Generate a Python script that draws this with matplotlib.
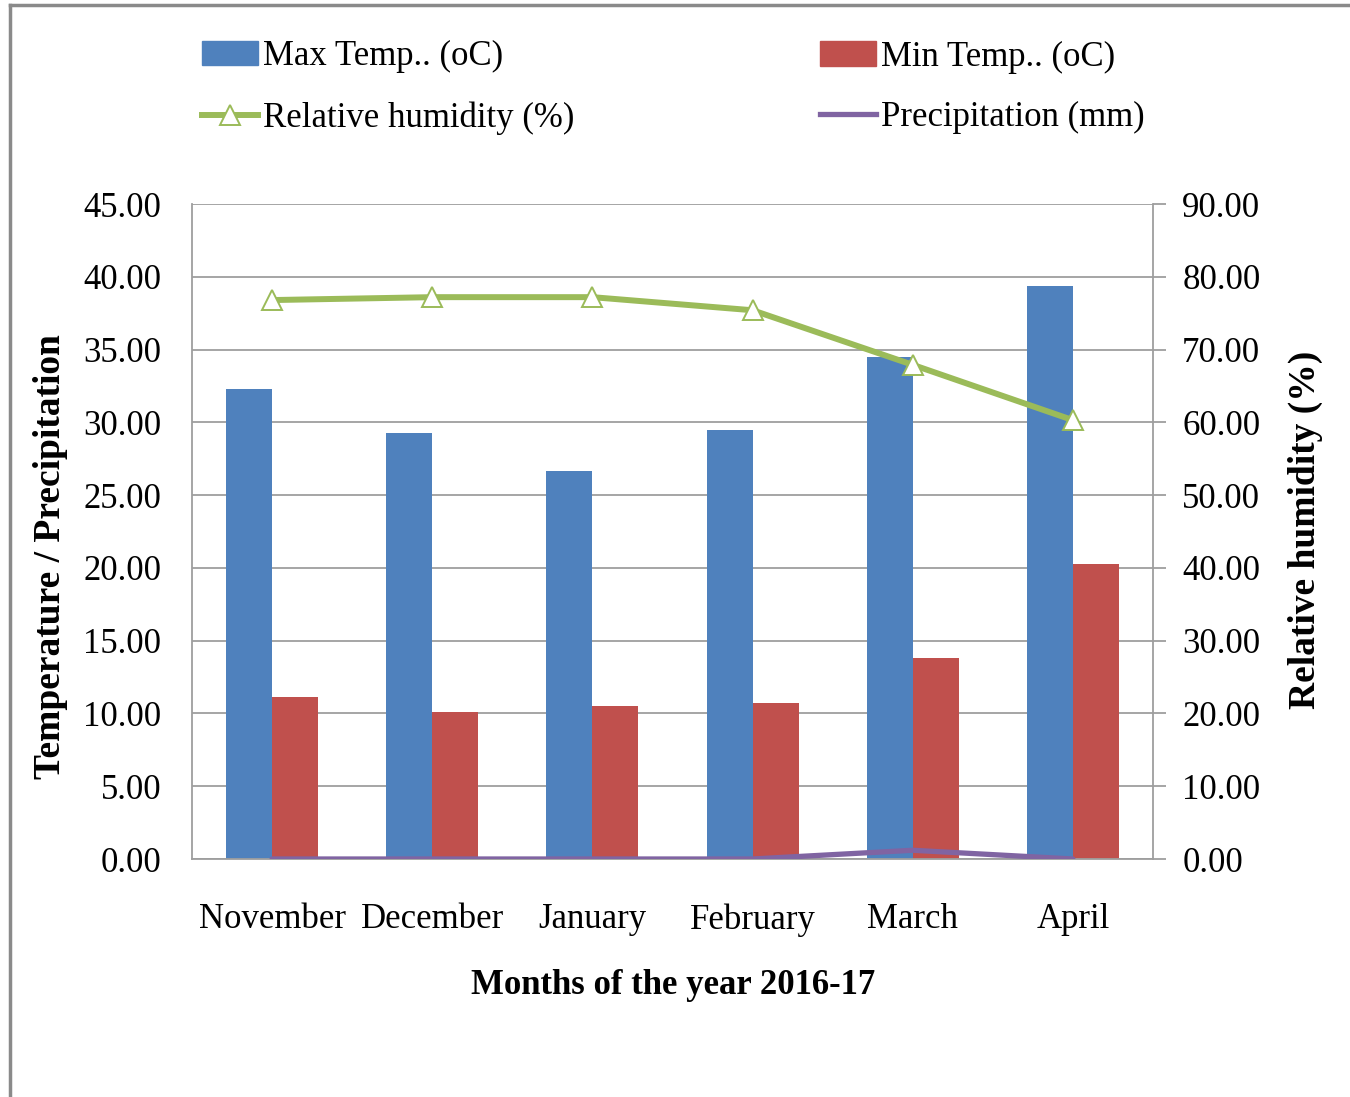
import matplotlib
matplotlib.use("Agg")
import matplotlib.pyplot as plt
from matplotlib.patches import Patch
from matplotlib.lines import Line2D
from matplotlib.ticker import FormatStrFormatter, MultipleLocator
import numpy as np

# Monthly weather data, November 2016 - April 2017
months = ["November", "December", "January", "February", "March", "April"]
max_temp = [32.3, 29.3, 26.65, 29.5, 34.5, 39.35]
min_temp = [11.1, 10.1, 10.5, 10.7, 13.8, 20.25]
rel_humidity = [76.8, 77.2, 77.2, 75.4, 67.9, 60.3]
precipitation = [0.0, 0.0, 0.0, 0.0, 0.6, 0.0]

BLUE = "#4F81BD"
RED = "#C0504D"
GREEN = "#9BBB59"
PURPLE = "#8064A2"
GRID = "#9E9E9E"

plt.rcParams["font.family"] = ["Liberation Serif", "DejaVu Serif"]

fig = plt.figure(figsize=(13.5, 10.97), dpi=100)
W, H = 1350, 1097
ax = fig.add_axes([192 / W, 1 - 859 / H, (1153 - 192) / W, (859 - 204) / H])

x = np.arange(len(months))
bw = 0.287
ax.bar(x - bw, max_temp, width=bw, align="edge", color=BLUE, zorder=2)
ax.bar(x, min_temp, width=bw, align="edge", color=RED, zorder=2)
ax.plot(x, precipitation, color=PURPLE, lw=3.8, zorder=4, solid_capstyle="round")

ax.set_xlim(-0.5, len(months) - 0.5)
ax.set_ylim(0, 45)
ax.yaxis.set_major_locator(MultipleLocator(5))
ax.yaxis.set_major_formatter(FormatStrFormatter("%.2f"))
ax.grid(axis="y", color=GRID, lw=1.3, zorder=0)
ax.set_axisbelow(True)
ax.set_xticks(x)
ax.set_xticklabels(months)
ax.tick_params(axis="x", length=0, pad=32, labelsize=25)
ax.tick_params(axis="y", length=0, pad=22, labelsize=25)
for side in ("top", "right"):
    ax.spines[side].set_visible(False)
for side in ("left", "bottom"):
    ax.spines[side].set_color(GRID)
    ax.spines[side].set_linewidth(1.3)

ax2 = ax.twinx()
ax2.plot(x, rel_humidity, color=GREEN, lw=4.3, zorder=3)
ax2.plot(x, rel_humidity, linestyle="none", marker="^", markersize=15,
         markerfacecolor="white", markeredgecolor=GREEN, markeredgewidth=1.4, zorder=4)
ax2.set_ylim(0, 90)
ax2.yaxis.set_major_locator(MultipleLocator(10))
ax2.yaxis.set_major_formatter(FormatStrFormatter("%.2f"))
ax2.tick_params(axis="y", length=9, width=1.3, color=GRID, pad=12, labelsize=25)
for side in ("top", "left", "bottom"):
    ax2.spines[side].set_visible(False)
ax2.spines["right"].set_color(GRID)
ax2.spines["right"].set_linewidth(1.3)

# Axis titles
fig.text(51 / W, 1 - 557 / H, "Temperature / Precipitation", rotation=90,
         ha="center", va="center", fontsize=27, fontweight="bold")
fig.text(1305 / W, 1 - 530 / H, "Relative humidity (%)", rotation=90,
         ha="center", va="center", fontsize=27, fontweight="bold")
fig.text(673 / W, 1 - 985 / H, "Months of the year 2016-17",
         ha="center", va="center", fontsize=25, fontweight="bold")

# Legend, two columns
h_max = Patch(facecolor=BLUE, edgecolor=BLUE)
h_min = Patch(facecolor=RED, edgecolor=RED)
h_rh = Line2D([], [], color=GREEN, lw=4.3, marker="^", markersize=15,
              markerfacecolor="white", markeredgecolor=GREEN, markeredgewidth=1.4)
h_pr = Line2D([], [], color=PURPLE, lw=3.8)
common = dict(frameon=False, fontsize=25, handlelength=1.6, handletextpad=0.15,
              labelspacing=0.8, borderpad=0, borderaxespad=0, loc="center left")
leg1 = fig.legend([h_max, h_rh], ["Max Temp.. (oC)", "Relative humidity (%)"],
                  bbox_to_anchor=(202 / W, 1 - 87.5 / H), **common)
leg2 = fig.legend([h_min, h_pr], ["Min Temp.. (oC)", "Precipitation (mm)"],
                  bbox_to_anchor=(820 / W, 1 - 87.5 / H), **common)

# Outer chart frame (left and top edges)
fig.add_artist(Line2D([10 / W, 10 / W], [0, 1 - 5 / H], transform=fig.transFigure,
                      color="#8A8A8A", lw=2.5))
fig.add_artist(Line2D([10 / W, 1], [1 - 5 / H, 1 - 5 / H], transform=fig.transFigure,
                      color="#8A8A8A", lw=2.5))

fig.savefig("out.png", dpi=100, facecolor="white")
